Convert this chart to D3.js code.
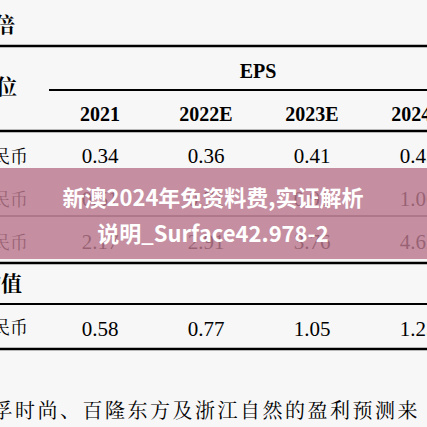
<!DOCTYPE html><html><head><meta charset="utf-8">
<script src="https://cdn.jsdelivr.net/npm/d3@7"></script>
<style>body{margin:0;background:#f7f7f7}</style></head><body>
<script>
const years=["2021","2022E","2023E","2024E"];
const rowLabels=["人民币","人民币","人民币"];
const row1=["0.34","0.36","0.41","0.45"];
const row2=["0.51","0.71","0.91","1.06"];
const row3=["2.17","2.91","3.76","4.62"];
const avgRow=["0.58","0.77","1.05","1.25"];
const W=427,H=427;
const svg=d3.select("body").append("svg").attr("width",W).attr("height",H);
svg.append("rect").attr("width",W).attr("height",H).attr("fill","#f7f7f7");
const x=d3.scalePoint().domain(years).range([100,418]);
const serif="'Liberation Serif','Times New Roman',serif";
const cjkS="'Noto Serif CJK SC','Noto Sans CJK SC',serif";
function line(y,x0,w){svg.append("line").attr("x1",x0).attr("x2",W).attr("y1",y).attr("y2",y).attr("stroke","#000").attr("stroke-width",w);}
function t(s,xx,y,o={}){return svg.append("text").attr("x",xx).attr("y",y).attr("text-anchor",o.a||"middle").attr("font-family",o.f||serif).attr("font-size",o.s||20).attr("font-weight",o.b?"bold":"normal").attr("letter-spacing",o.ls||0).attr("fill",o.c||"#000").text(s);}
t("倍",-6,32,{a:"start",f:cjkS,s:21,b:true});
line(46,0,2.5);
t("EPS",258,78,{b:true,s:20});
t("位",-4,94,{a:"start",f:cjkS,s:21,b:true});
line(90,49,2);
years.forEach(y=>t(y,x(y),121,{b:true,s:20}));
line(131,0,2.5);
const rows=[row1,row2,row3];
const ry=[163,206,249];
rows.forEach((r,i)=>{t(rowLabels[i],28,ry[i],{a:"end",f:cjkS,s:18});r.forEach((v,j)=>t(v,x(years[j]),ry[i],{s:21}));});
line(216,0,1);
line(263,0,2.5);
t("均值",-20,291,{a:"start",f:cjkS,s:21,b:true});
line(304,0,2);
t("人民币",28,334,{a:"end",f:cjkS,s:18});
avgRow.forEach((v,j)=>t(v,x(years[j]),336,{s:21}));
line(349,0,2.5);
t("华孚时尚、百隆东方及浙江自然的盈利预测来",-30,418,{a:"start",f:cjkS,s:20,ls:2.5});
svg.append("rect").attr("x",0).attr("y",168).attr("width",W).attr("height",91).attr("fill","rgb(185,120,142)").attr("opacity",0.82);
const bt={f:"'Noto Sans CJK SC',sans-serif",s:22,b:true,c:"#fff"};
t("新澳2024年免资料费,实证解析",213,206,bt);
t("说明_Surface42.978-2",213,242,bt);
</script></body></html>
